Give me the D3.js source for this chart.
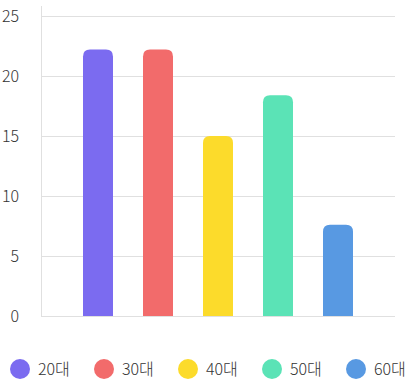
<!DOCTYPE html>
<html><head><meta charset="utf-8">
<script src="https://cdn.jsdelivr.net/npm/d3@7"></script>
<style>
html,body{margin:0;padding:0;background:#fff;}
svg{display:block;font-family:"Noto Sans CJK KR","Noto Sans",sans-serif;}
</style></head>
<body><svg id="c" width="411" height="381"></svg>
<script>
const categories = ["20대","30대","40대","50대","60대"];
const values = [22.2, 22.2, 15, 18.4, 7.6];
const colors = ["#7B6BF0","#F26B6B","#FCDB2B","#5BE3B6","#5899E2"];
const yTicks = [0,5,10,15,20,25];

(function(){
const svg = d3.select("#c");
const pLeft = 41, pRight = 395, pTop = 16, pBottom = 316;
const y = d3.scaleLinear().domain([0,25]).range([pBottom, pTop]);
const x = d3.scaleBand().domain(categories).range([pLeft, pRight]).paddingInner(0.5).paddingOuter(0.7);

svg.append("g").selectAll("line").data(yTicks).join("line")
  .attr("x1", pLeft).attr("x2", pRight)
  .attr("y1", d => Math.round(y(d)) + 0.5).attr("y2", d => Math.round(y(d)) + 0.5)
  .attr("stroke", "#e0e0e0").attr("stroke-width", 1);
svg.append("line").attr("x1", pLeft + 0.5).attr("x2", pLeft + 0.5).attr("y1", 6).attr("y2", pBottom + 0.5)
  .attr("stroke", "#e0e0e0");

svg.append("g").selectAll("text").data(yTicks).join("text")
  .attr("x", 19).attr("y", d => y(d)).attr("dy", "0.35em")
  .attr("text-anchor", "end").attr("font-size", 16).attr("font-weight", 300).attr("fill", "#333")
  .text(d => d);

const r = 7;
function barPath(x0, w, yTop, yBot) {
  const rr = Math.min(r, (yBot - yTop));
  return `M${x0},${yBot}V${yTop + rr}Q${x0},${yTop} ${x0 + rr},${yTop}H${x0 + w - rr}Q${x0 + w},${yTop} ${x0 + w},${yTop + rr}V${yBot}Z`;
}
svg.append("g").selectAll("path").data(categories).join("path")
  .attr("d", (c, i) => barPath(x(c), x.bandwidth(), y(values[i]), y(0)))
  .attr("fill", (c, i) => colors[i]);

const lg = svg.append("g").selectAll("g").data(categories).join("g")
  .attr("transform", (c, i) => `translate(${20 + 84 * i},369)`);
lg.append("circle").attr("r", 10).attr("fill", (c, i) => colors[i]);
lg.append("text").attr("x", 18).attr("dy", "0.35em").attr("font-size", 16).attr("font-weight", 300).attr("fill", "#333")
  .text(c => c);
})();
</script></body></html>
